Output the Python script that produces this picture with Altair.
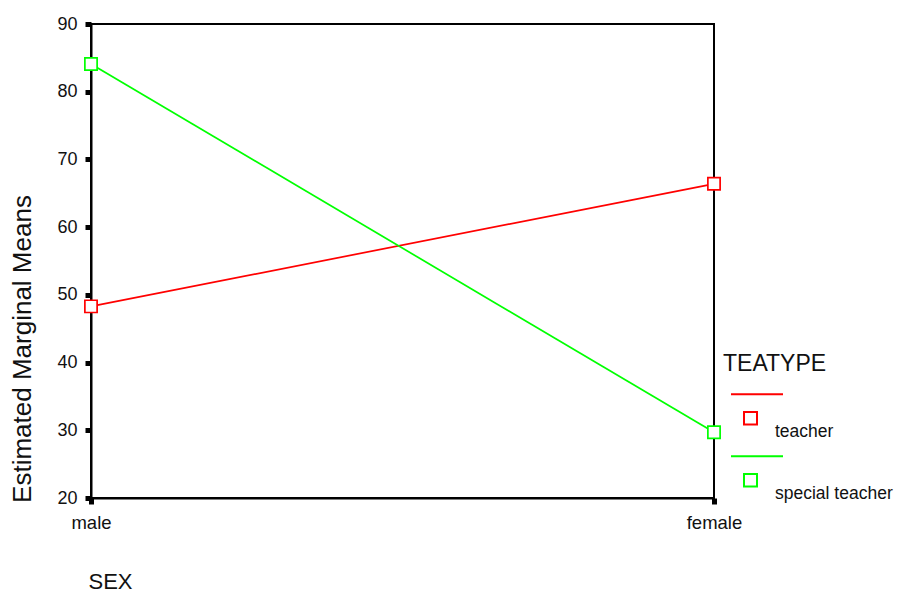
import altair as alt
import pandas as pd

sex = ["male", "female"]
teatype = ["teacher", "special teacher"]
teacher_means = [48.3, 66.4]
special_means = [84.1, 29.7]
y_ticks = [20, 30, 40, 50, 60, 70, 80, 90]
colors = ["#ff0000", "#00ff00"]

rows = []
for t, vals in zip(teatype, [teacher_means, special_means]):
    for s, v in zip(sex, vals):
        rows.append({"SEX": s, "TEATYPE": t, "mean": v})
df = pd.DataFrame(rows)

FONT = "Liberation Sans"

legend = alt.Legend(
    orient="none", legendX=632, legendY=328.5,
    title="TEATYPE", titleFont=FONT, titleFontSize=23, titleFontWeight="normal",
    titleColor="#111", titlePadding=30.5, titleAnchor="start",
    labelFont=FONT, labelFontSize=17.5, labelColor="#111", labelBaseline="middle",
    labelOffset=0, labelLimit=300,
    symbolType="M-0.72,-1.51L1.36,-1.51M-0.2,-0.8L0.32,-0.8L0.32,-0.3L-0.2,-0.3Z",
    symbolSize=2500, symbolStrokeWidth=2, symbolFillColor="transparent",
    symbolOpacity=1, symbolOffset=0, rowPadding=11, padding=0,
)

stroke = alt.Stroke("TEATYPE:N", scale=alt.Scale(domain=teatype, range=colors),
                    sort=teatype, legend=legend)

x = alt.X("SEX:N", sort=sex, scale=alt.Scale(type="point", padding=0),
          title="SEX",
          axis=alt.Axis(labelAngle=0, labelFontSize=18.5, labelPadding=9,
                        titleX=19, titleY=90.5, titleAlign="center",
                        titleBaseline="alphabetic", titleFontSize=22))
y = alt.Y("mean:Q", scale=alt.Scale(domain=[20, 90], nice=False, zero=False),
          title="Estimated Marginal Means",
          axis=alt.Axis(values=y_ticks, labelFontSize=18, labelPadding=8,
                        titleAngle=270, titleX=-61, titleY=324.5,
                        titleAlign="center", titleBaseline="alphabetic",
                        titleFontSize=26))

base = alt.Chart(df).encode(x=x, y=y, stroke=stroke)
lines = base.mark_line(strokeWidth=1.7)
points = base.mark_point(shape="square", size=150, filled=False, fill="white",
                         fillOpacity=1, strokeWidth=1.7, opacity=1)

chart = (lines + points).properties(
    width=623, height=474,
    autosize=alt.AutoSizeParams(type="none"),
    padding={"left": 83, "top": 16, "right": 182, "bottom": 97},
    background="white",
).configure_view(
    stroke="black", strokeWidth=2
).configure_axis(
    grid=False, domainColor="black", domainWidth=2, tickColor="black",
    tickWidth=5, tickSize=6, labelFont=FONT, titleFont=FONT,
    labelColor="#111", titleColor="#111", titleFontWeight="normal",
)

chart.save("out.html", embed_options={"renderer": "svg", "actions": False})
